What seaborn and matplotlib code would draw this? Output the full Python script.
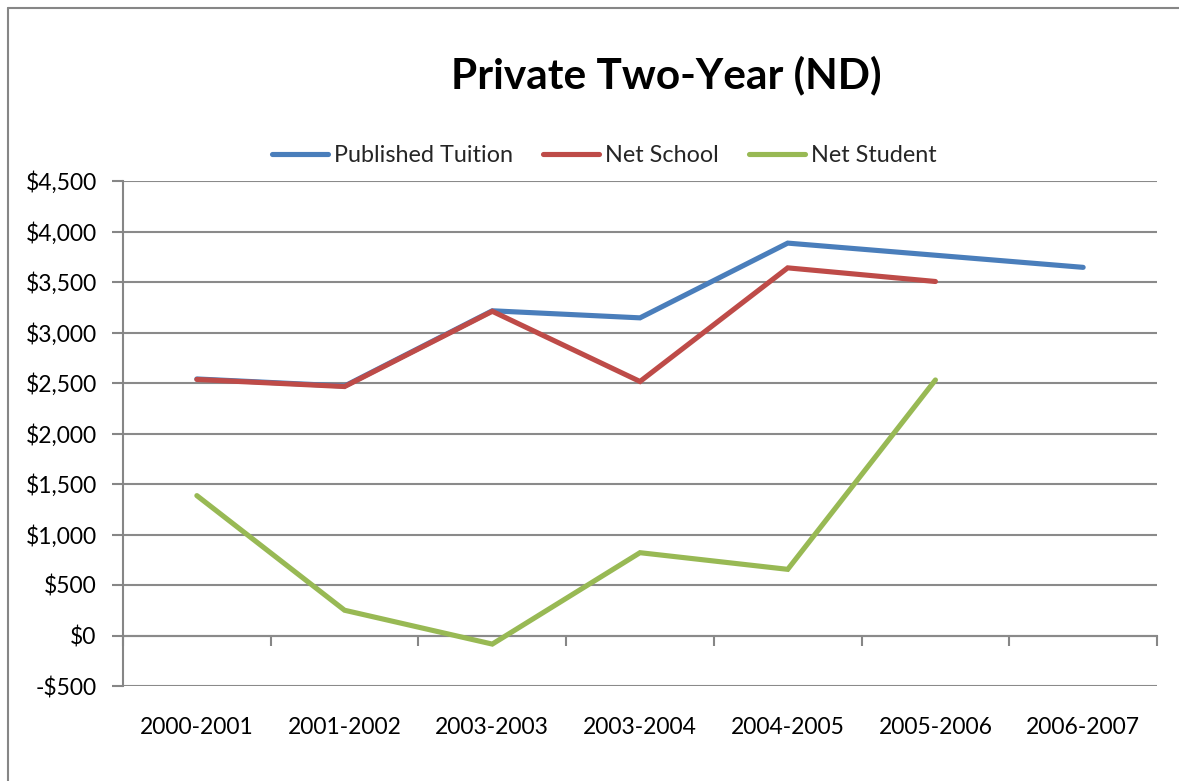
import numpy as np
import pandas as pd
import matplotlib
matplotlib.use("Agg")
import matplotlib.pyplot as plt
from matplotlib.lines import Line2D
from matplotlib.ticker import FuncFormatter
import seaborn as sns

years = ["2000-2001", "2001-2002", "2003-2003", "2003-2004", "2004-2005", "2005-2006", "2006-2007"]
published_tuition = [2540, 2470, 3215, 3145, 3885, 3765, 3645]
net_school = [2535, 2465, 3210, 2515, 3640, 3505, np.nan]
net_student = [1385, 250, -85, 820, 655, 2530, np.nan]
series_names = ["Published Tuition", "Net School", "Net Student"]
colors = ["#4A7EBB", "#BE4B48", "#98B954"]

rows = []
for name, vals in zip(series_names, [published_tuition, net_school, net_student]):
    for i, v in enumerate(vals):
        rows.append({"idx": i, "value": v, "series": name})
df = pd.DataFrame(rows)

sns.set_style("white")
plt.rcParams["font.family"] = ["Lato", "DejaVu Sans"]

W, H = 1179, 781
fig = plt.figure(figsize=(W / 100, H / 100), dpi=100)
ax = fig.add_axes([123 / W, 1 - 686 / H, (1157 - 123) / W, (686 - 181) / H])

sns.lineplot(data=df, x="idx", y="value", hue="series", hue_order=series_names,
             palette=colors, linewidth=3.7, ax=ax, legend=False, sort=False)
for ln in ax.lines:
    ln.set_solid_capstyle("round")
    ln.set_solid_joinstyle("miter")

ax.set_xlim(-0.5, len(years) - 0.5)
ax.set_ylim(-500, 4500)
ax.set_yticks(np.arange(-500, 4501, 500))
ax.yaxis.set_major_formatter(FuncFormatter(lambda v, p: ("-$" if v < 0 else "$") + f"{abs(v):,.0f}"))
ax.set_xticks(range(len(years)))
ax.set_xticklabels(years)
ax.tick_params(axis="x", length=0, pad=22, labelsize=16.5, labelcolor="black")
ax.tick_params(axis="y", length=8, width=1.5, color="#868686", direction="out", pad=11,
               labelsize=16.5, labelcolor="black", left=True)
ax.set_xlabel("")
ax.set_ylabel("")
ax.yaxis.grid(True, color="#8A8A8A", linewidth=1.5)
ax.set_axisbelow(True)
for s in ["top", "right", "bottom"]:
    ax.spines[s].set_visible(False)
ax.spines["left"].set_color("#868686")
ax.spines["left"].set_linewidth(1.5)

# category axis crossing at $0
sec = ax.secondary_xaxis(0.1)
sec.set_xticks(np.arange(-0.5, len(years), 1.0))
sec.set_xticklabels([])
sec.tick_params(axis="x", length=7, width=1.5, color="#868686", direction="out")
sec.spines["bottom"].set_color("#868686")
sec.spines["bottom"].set_linewidth(1.5)

handles = [Line2D([0], [0], color=c, linewidth=3.7, solid_capstyle="round") for c in colors]
fig.legend(handles, series_names, loc="center", bbox_to_anchor=(604 / W, 1 - 156 / H),
           ncol=3, frameon=False, fontsize=16.8, handlelength=2.4, columnspacing=1.3,
           handletextpad=0.25)

fig.text(666 / W, 1 - 75 / H, "Private Two-Year (ND)", ha="center", va="center",
         fontsize=30.5, fontweight="bold", color="black")

# chart area border
fig.add_artist(Line2D([8 / W, 8 / W], [0, 1 - 8 / H], color="#868686", linewidth=1.5, transform=fig.transFigure))
fig.add_artist(Line2D([8 / W, 1], [1 - 8 / H, 1 - 8 / H], color="#868686", linewidth=1.5, transform=fig.transFigure))

fig.savefig("out.png", dpi=100, facecolor="white")
